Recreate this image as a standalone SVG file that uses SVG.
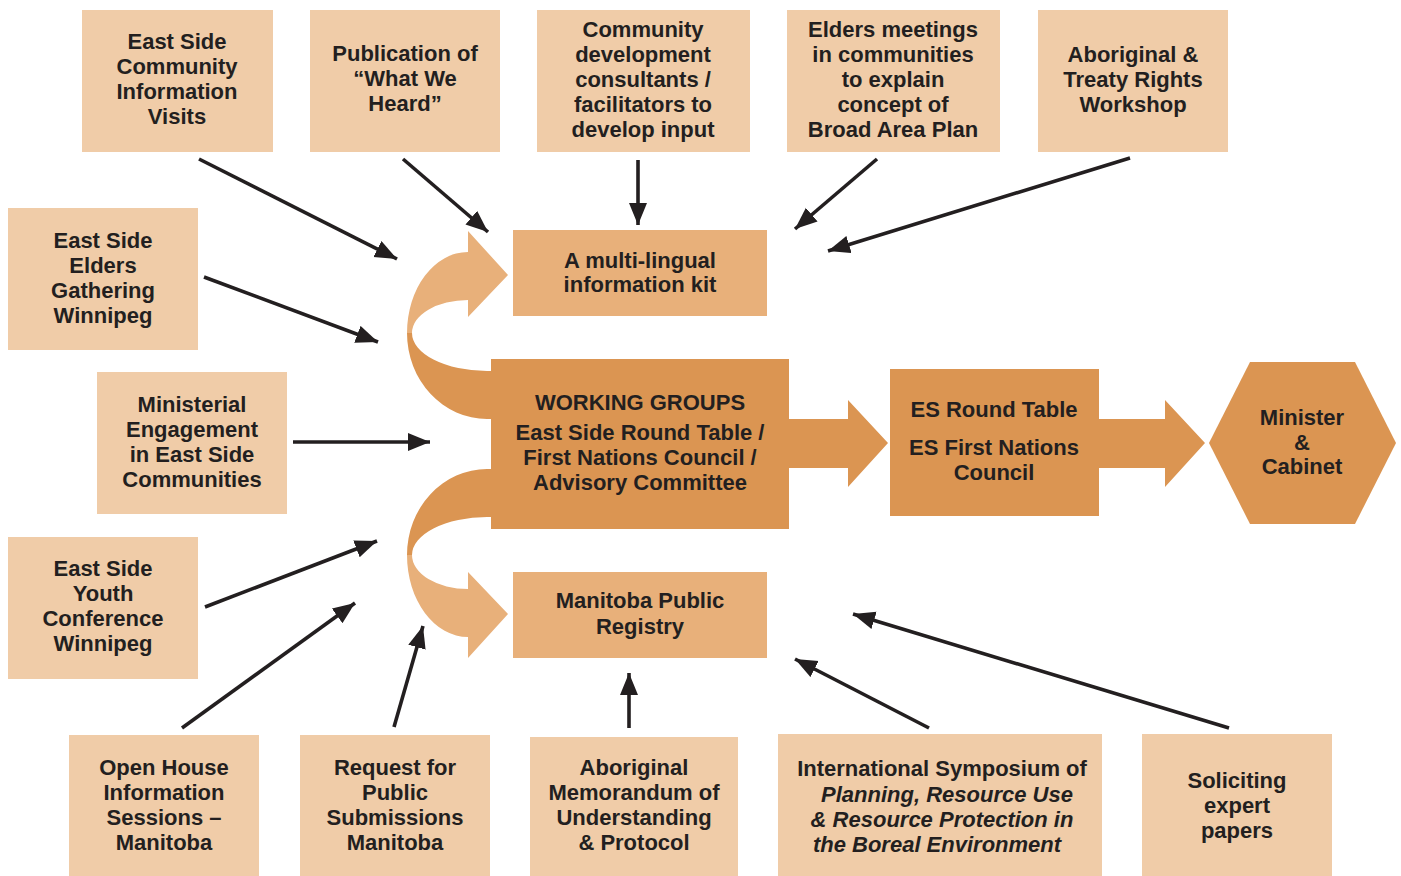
<svg xmlns="http://www.w3.org/2000/svg" width="1401" height="876" viewBox="0 0 1401 876">
<style>
.lt{fill:#F0CCA8}
.md{fill:#E8B07A}
.dk{fill:#DB9552}
text{font-family:"Liberation Sans",Arial,sans-serif;font-weight:bold;font-size:22px;fill:#231F20;text-anchor:middle}
.it{font-style:italic}
.cn line{stroke:#231F20;stroke-width:3.6;marker-end:url(#ah)}
</style>
<defs>
<marker id="ah" markerUnits="userSpaceOnUse" markerWidth="24" markerHeight="20" refX="22" refY="9" orient="auto">
<path d="M0,0 L22,9 L0,18 Z" fill="#231F20"/>
</marker>
</defs>
<rect width="1401" height="876" fill="#FFFFFF"/>

<g id="flows">
<path class="md" d="M468,252 L468,231 L508,275 L468,317 L468,300 A56 33 0 0 0 412,333 L407,333 A61 81 0 0 1 468,252 Z"/>
<path class="dk" d="M407,333 A80 86 0 0 0 487,419 L495,419 L495,371 L487,371 A75 38 0 0 1 412,333 Z"/>
<path class="dk" d="M495,469 L487,469 A80 86 0 0 0 407,555 L412,555 A75 38 0 0 1 487,517 L495,517 Z"/>
<path class="md" d="M407,555 A61 82 0 0 0 468,637 L468,658 L508,614 L468,572 L468,589 A56 34 0 0 1 412,555 Z"/>
<path class="dk" d="M785,419 L848,419 L848,400 L888,443 L848,487 L848,468 L785,468 Z"/>
<path class="dk" d="M1095,419 L1165,419 L1165,400 L1205,443 L1165,487 L1165,468 L1095,468 Z"/>
</g>

<g id="n1"><rect class="lt" x="82" y="10" width="191" height="142"/>
<text x="177" y="49">East Side</text><text x="177" y="74">Community</text><text x="177" y="99">Information</text><text x="177" y="124">Visits</text></g>
<g id="n2"><rect class="lt" x="310" y="10" width="190" height="142"/>
<text x="405" y="61">Publication of</text><text x="405" y="86">“What We</text><text x="405" y="111">Heard”</text></g>
<g id="n3"><rect class="lt" x="537" y="10" width="213" height="142"/>
<text x="643" y="37">Community</text><text x="643" y="62">development</text><text x="643" y="87">consultants /</text><text x="643" y="112">facilitators to</text><text x="643" y="137">develop input</text></g>
<g id="n4"><rect class="lt" x="787" y="10" width="213" height="142"/>
<text x="893" y="37">Elders meetings</text><text x="893" y="62">in communities</text><text x="893" y="87">to explain</text><text x="893" y="112">concept of</text><text x="893" y="137">Broad Area Plan</text></g>
<g id="n5"><rect class="lt" x="1038" y="10" width="190" height="142"/>
<text x="1133" y="62">Aboriginal &amp;</text><text x="1133" y="87">Treaty Rights</text><text x="1133" y="112">Workshop</text></g>
<g id="n6"><rect class="lt" x="8" y="208" width="190" height="142"/>
<text x="103" y="248">East Side</text><text x="103" y="273">Elders</text><text x="103" y="298">Gathering</text><text x="103" y="323">Winnipeg</text></g>
<g id="n7"><rect class="lt" x="97" y="372" width="190" height="142"/>
<text x="192" y="412">Ministerial</text><text x="192" y="437">Engagement</text><text x="192" y="462">in East Side</text><text x="192" y="487">Communities</text></g>
<g id="n8"><rect class="lt" x="8" y="537" width="190" height="142"/>
<text x="103" y="576">East Side</text><text x="103" y="601">Youth</text><text x="103" y="626">Conference</text><text x="103" y="651">Winnipeg</text></g>
<g id="n9"><rect class="lt" x="69" y="735" width="190" height="141"/>
<text x="164" y="775">Open House</text><text x="164" y="800">Information</text><text x="164" y="825">Sessions –</text><text x="164" y="850">Manitoba</text></g>
<g id="n10"><rect class="lt" x="300" y="735" width="190" height="141"/>
<text x="395" y="775">Request for</text><text x="395" y="800">Public</text><text x="395" y="825">Submissions</text><text x="395" y="850">Manitoba</text></g>
<g id="n11"><rect class="lt" x="530" y="737" width="208" height="139"/>
<text x="634" y="775">Aboriginal</text><text x="634" y="800">Memorandum of</text><text x="634" y="825">Understanding</text><text x="634" y="850">&amp; Protocol</text></g>
<g id="n12"><rect class="lt" x="778" y="734" width="324" height="142"/>
<text x="942" y="776">International Symposium of</text><text class="it" x="947" y="802">Planning, Resource Use</text><text class="it" x="942" y="827">&amp; Resource Protection in</text><text class="it" x="937" y="852">the Boreal Environment</text></g>
<g id="n13"><rect class="lt" x="1142" y="734" width="190" height="142"/>
<text x="1237" y="788">Soliciting</text><text x="1237" y="813">expert</text><text x="1237" y="838">papers</text></g>

<g id="kit"><rect class="md" x="513" y="230" width="254" height="86"/>
<text x="640" y="268">A multi-lingual</text><text x="640" y="292">information kit</text></g>
<g id="registry"><rect class="md" x="513" y="572" width="254" height="86"/>
<text x="640" y="608">Manitoba Public</text><text x="640" y="634">Registry</text></g>
<g id="wg"><rect class="dk" x="491" y="359" width="298" height="170"/>
<text x="640" y="410">WORKING GROUPS</text><text x="640" y="440">East Side Round Table /</text><text x="640" y="465">First Nations Council /</text><text x="640" y="490">Advisory Committee</text></g>
<g id="es"><rect class="dk" x="890" y="369" width="209" height="147"/>
<text x="994" y="417">ES Round Table</text><text x="994" y="455">ES First Nations</text><text x="994" y="480">Council</text></g>
<g id="minister"><polygon class="dk" points="1209,443 1250,362 1355,362 1396,443 1355,524 1250,524"/>
<text x="1302" y="425">Minister</text><text x="1302" y="450">&amp;</text><text x="1302" y="474">Cabinet</text></g>

<g id="connectors" class="cn">
<line x1="199" y1="159" x2="397" y2="259"/>
<line x1="403" y1="159" x2="488" y2="232"/>
<line x1="638" y1="160" x2="638" y2="225"/>
<line x1="877" y1="159" x2="795" y2="229"/>
<line x1="1130" y1="158" x2="828" y2="251"/>
<line x1="204" y1="277" x2="378" y2="342"/>
<line x1="293" y1="442" x2="430" y2="442"/>
<line x1="205" y1="607" x2="377" y2="541"/>
<line x1="182" y1="728" x2="355" y2="603"/>
<line x1="394" y1="727" x2="423" y2="626"/>
<line x1="629" y1="728" x2="629" y2="673"/>
<line x1="929" y1="728" x2="795" y2="659"/>
<line x1="1229" y1="728" x2="853" y2="614"/>
</g>
</svg>
